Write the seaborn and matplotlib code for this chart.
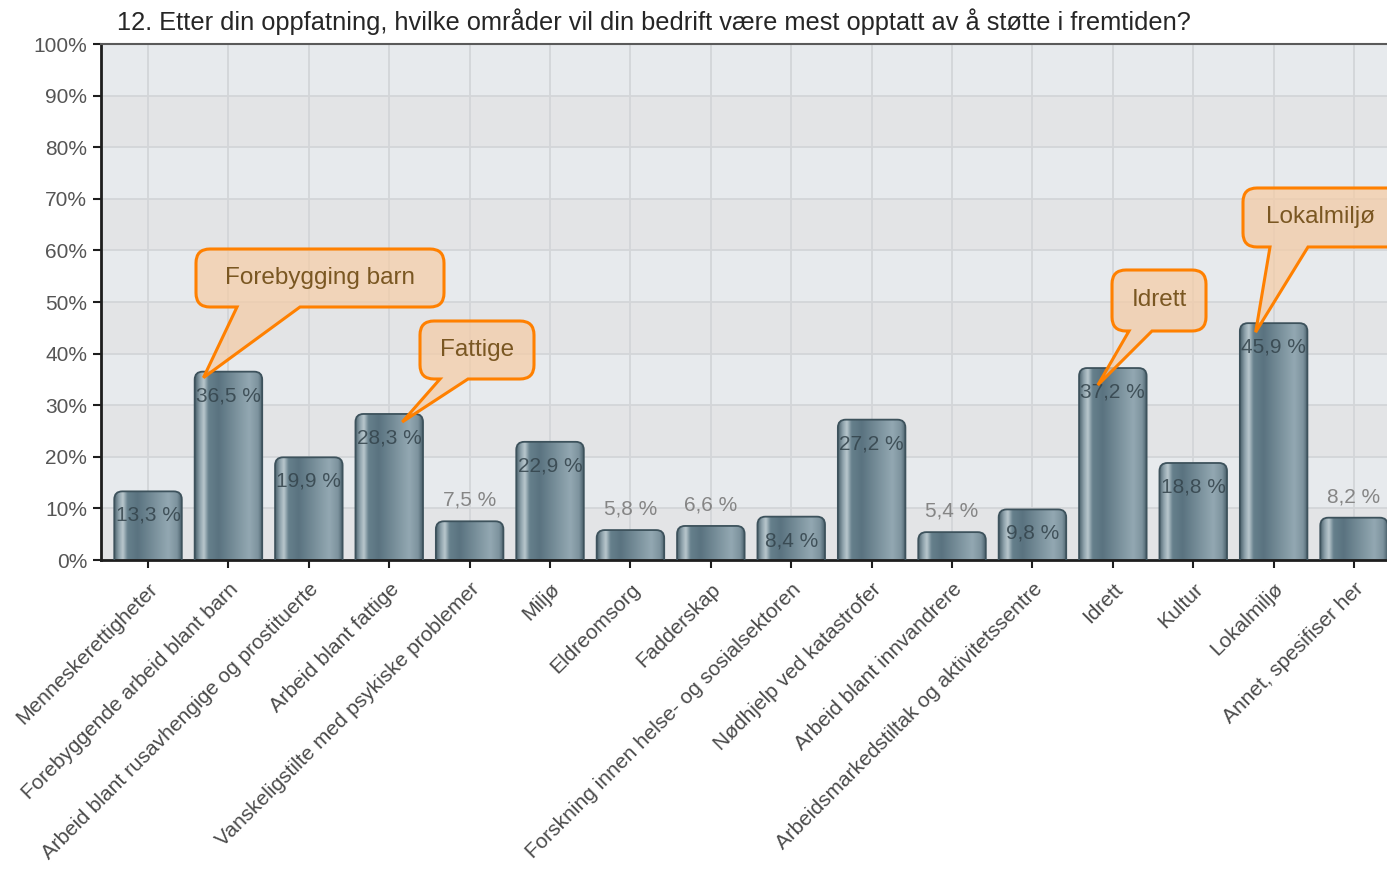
import numpy as np
import matplotlib
matplotlib.use('Agg')
import matplotlib.pyplot as plt
import matplotlib.transforms as mtransforms
from matplotlib.patches import FancyBboxPatch, PathPatch
from matplotlib.path import Path
from matplotlib.colors import LinearSegmentedColormap
import seaborn as sns

# Data
categories = ['Menneskerettigheter', 'Forebyggende arbeid blant barn',
              'Arbeid blant rusavhengige og prostituerte', 'Arbeid blant fattige',
              'Vanskeligstilte med psykiske problemer', 'Miljø', 'Eldreomsorg',
              'Fadderskap', 'Forskning innen helse- og sosialsektoren',
              'Nødhjelp ved katastrofer', 'Arbeid blant innvandrere',
              'Arbeidsmarkedstiltak og aktivitetssentre', 'Idrett', 'Kultur',
              'Lokalmiljø', 'Annet, spesifiser her']
values = [13.3, 36.5, 19.9, 28.3, 7.5, 22.9, 5.8, 6.6, 8.4, 27.2, 5.4, 9.8,
          37.2, 18.8, 45.9, 8.2]
y_ticks = [0, 10, 20, 30, 40, 50, 60, 70, 80, 90, 100]
title = '12. Etter din oppfatning, hvilke områder vil din bedrift være mest opptatt av å støtte i fremtiden?'

# Callouts: text, target category
callout_texts = ['Forebygging barn', 'Fattige', 'Idrett', 'Lokalmiljø']
callout_targets = ['Forebyggende arbeid blant barn', 'Arbeid blant fattige', 'Idrett', 'Lokalmiljø']

W, H = 1387, 876
sns.set_theme(style='white')
plt.rcParams['font.family'] = ['Liberation Sans', 'DejaVu Sans']

fig = plt.figure(figsize=(W / 100, H / 100), dpi=100)
x_left, x_right = -0.585, 15.6
ax_w = 80.4 * (x_right - x_left)
ax = fig.add_axes([101 / W, 1 - 560 / H, ax_w / W, 516 / H])

sns.barplot(x=categories, y=values, ax=ax, width=0.84, color='#6f8894', zorder=2)
bars = list(ax.patches)
ax.set_xlim(x_left, x_right)
ax.set_ylim(0, 100)

# background bands + grid
ax.set_facecolor('#e3e4e6')
for k in range(1, 10, 2):
    ax.axhspan(y_ticks[k], y_ticks[k + 1], color='#e7eaed', zorder=0, lw=0)
ax.set_yticks(y_ticks)
ax.set_yticklabels([f'{t}%' for t in y_ticks])
ax.grid(True, color='#d3d5d8', lw=1.3, zorder=1)
ax.set_axisbelow(True)

ax.spines['right'].set_visible(False)
ax.spines['left'].set_color('#1e1e1e')
ax.spines['left'].set_linewidth(2)
ax.spines['bottom'].set_color('#1e1e1e')
ax.spines['bottom'].set_linewidth(2)
ax.spines['top'].set_color('#5a5a5a')
ax.spines['top'].set_linewidth(1.5)

ax.tick_params(axis='y', direction='out', length=6, width=1.5, color='#1e1e1e',
               labelsize=15, labelcolor='#555555', pad=4, left=True)
ax.tick_params(axis='x', direction='out', length=6, width=1.5, color='#1e1e1e',
               labelsize=15, labelcolor='#4a4a4a', pad=8, bottom=True)
ax.set_xlabel('')
ax.set_ylabel('')
plt.setp(ax.get_xticklabels(), rotation=45, ha='right', rotation_mode='anchor')

fig.canvas.draw()

# gradient cylinder bars with rounded tops
cmap = LinearSegmentedColormap.from_list('steel', [
    (0.0, '#4a606b'), (0.07, '#8ea2ab'), (0.13, '#bac8ce'), (0.2, '#66808c'),
    (0.35, '#5a7380'), (0.6, '#7a919c'), (0.8, '#93a8b2'), (0.93, '#7d939e'),
    (1.0, '#4a606b')])
sx = ax.transData.transform((1, 0))[0] - ax.transData.transform((0, 0))[0]
sy = ax.transData.transform((0, 1))[1] - ax.transData.transform((0, 0))[1]
rad = 8 / sx
grad = np.linspace(0, 1, 256).reshape(1, -1)
for p in bars:
    x0, w, h = p.get_x(), p.get_width(), p.get_height()
    p.set_visible(False)
    shape = FancyBboxPatch((x0, -3), w, h + 3, boxstyle=f'round,pad=0,rounding_size={rad}',
                           mutation_aspect=sx / sy, fc='none', ec='none', zorder=2)
    ax.add_patch(shape)
    im = ax.imshow(grad, extent=[x0, x0 + w, -3, h], cmap=cmap, aspect='auto',
                   interpolation='bicubic', zorder=2)
    im.set_clip_path(shape)
    edge = FancyBboxPatch((x0, -3), w, h + 3, boxstyle=f'round,pad=0,rounding_size={rad}',
                          mutation_aspect=sx / sy, fc='none', ec='#3d525c', lw=1.3, zorder=3)
    ax.add_patch(edge)
ax.set_xlim(x_left, x_right)
ax.set_ylim(0, 100)

# value labels
for i, v in enumerate(values):
    txt = f'{v:.1f} %'.replace('.', ',')
    if v > 8.3:
        ax.annotate(txt, (i, v), xytext=(0, -24), textcoords='offset pixels',
                    ha='center', va='center', fontsize=15, color='#33434b', alpha=0.85, zorder=4)
    else:
        ax.annotate(txt, (i, v), xytext=(0, 21), textcoords='offset pixels',
                    ha='center', va='center', fontsize=15, color='#858585', zorder=4)

# callouts (pixel layout, top-left origin)
pix = mtransforms.Affine2D().scale(1 / W, -1 / H).translate(0, 1) + fig.transFigure
boxes = [(196, 249, 444, 307), (420, 321, 534, 379), (1112, 270, 1206, 331), (1243, 188, 1410, 247)]
tails = [(237, 300), (440, 468), (1129, 1152), (1270, 1308)]
tip_offsets = [(-25, 6), (13, 8), (-15, 17), (-18, 9)]


def bubble(box, tail, tip, r=14):
    x0, y0, x1, y1 = box
    verts = [(x0 + r, y0), (x1 - r, y0), (x1, y0), (x1, y0 + r), (x1, y1 - r), (x1, y1),
             (x1 - r, y1), (tail[1], y1), tip, (tail[0], y1), (x0 + r, y1), (x0, y1),
             (x0, y1 - r), (x0, y0 + r), (x0, y0), (x0 + r, y0), (x0 + r, y0)]
    codes = [Path.MOVETO, Path.LINETO, Path.CURVE3, Path.CURVE3, Path.LINETO, Path.CURVE3,
             Path.CURVE3, Path.LINETO, Path.LINETO, Path.LINETO, Path.LINETO, Path.CURVE3,
             Path.CURVE3, Path.LINETO, Path.CURVE3, Path.CURVE3, Path.CLOSEPOLY]
    return Path(verts, codes)


for text, target, box, tail, off in zip(callout_texts, callout_targets, boxes, tails, tip_offsets):
    i = categories.index(target)
    tx, ty = ax.transData.transform((i, values[i]))
    tip = (tx + off[0], H - ty + off[1])
    patch = PathPatch(bubble(box, tail, tip), transform=pix, fc=(0.96, 0.80, 0.65, 0.72),
                      ec='#ff8000', lw=2.2, zorder=10, clip_on=False)
    fig.add_artist(patch)
    fig.text(((box[0] + min(box[2], 1398)) / 2) / W, 1 - (box[1] + box[3]) / 2 / H, text,
             ha='center', va='center', fontsize=17.5, color='#7a5722', zorder=11)

fig.text(117 / W, 1 - 22 / H, title, ha='left', va='center', fontsize=18.3, color='#262626')

fig.savefig('out.png', dpi=100)
